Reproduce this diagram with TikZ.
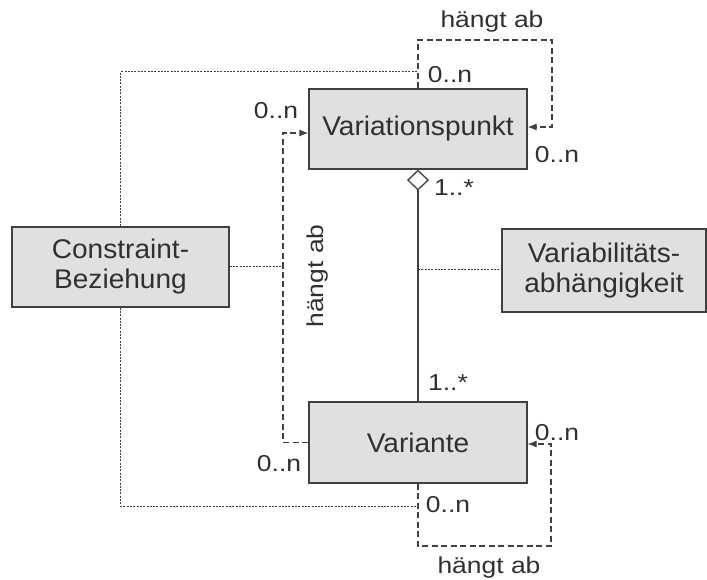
\documentclass[tikz,border=0pt]{standalone}
\usepackage{fontspec}
\setmainfont{Liberation Sans}
\newfontfamily\boxfont[FakeStretch=1.04]{Liberation Sans}
\newfontfamily\labfont[FakeStretch=1.15]{Liberation Sans}
\usetikzlibrary{arrows.meta,calc}
\definecolor{ink}{HTML}{404040}
\definecolor{boxfill}{HTML}{E0E0E0}
\definecolor{txt}{HTML}{303030}
\tikzset{
  cls/.style={draw=ink, fill=boxfill, line width=1.2pt, inner sep=0pt, text=txt,
    font=\boxfont\fontsize{27}{30}\selectfont, align=center},
  lab/.style={text=txt, font=\labfont\fontsize{23}{26}\selectfont, inner sep=0pt},
  dep/.style={draw=ink, line width=1.1pt, dash pattern=on 6pt off 3.5pt},
  assoc/.style={draw=ink, line width=1pt, dash pattern=on 2pt off 1.3pt},
  arr/.style={-{Latex[length=9pt,width=7pt]}},
}
\begin{document}
\begin{tikzpicture}[x=1pt,y=-1pt]
\useasboundingbox (0,0) rectangle (707,580);

% classes
\node[cls, minimum width=218pt, minimum height=80pt] (vp) at (418,129) {Variationspunkt};
\node[cls, minimum width=218pt, minimum height=81pt] (var) at (418,442.5) {Variante};
\node[cls, minimum width=217pt, minimum height=80pt] (cb) at (120.5,267) {Constraint-\\Beziehung};
\node[cls, minimum width=204pt, minimum height=83pt] (va) at (604,270.5) {Variabilitäts-\\abhängigkeit};

% helper points of the connectors
\coordinate (tj) at (418,72);
\coordinate (bj) at (418,506);
\coordinate (mj) at (418,270);
\coordinate (dl) at (283,268);
\coordinate (tr) at (552,40);
\coordinate (br) at (551,546);

% aggregation Variationspunkt <>-- Variante
\draw[ink, line width=1.3pt, {Diamond[open,fill=white,length=21pt,width=22pt]}-] (vp.south) -- (var.north);

% association classes and constraint links (dotted)
\draw[assoc] (mj) -- (mj -| va.west);
\draw[assoc] (cb.north) |- (tj);
\draw[assoc] (cb.south) |- (bj);
\draw[assoc] (cb.east) -- (cb.east -| dl);

% dependencies (dashed)
\draw[dep, arr] (var.west) -| (dl) |- ($(vp.west)+(0,4)$);
\draw[dep, arr] (vp.north) |- (tr) |- ($(vp.east)+(0,-2)$);
\draw[dep, arr] (var.south) |- (br) |- ($(var.east)+(0,1.5)$);

% labels
\node[lab, anchor=base] (l1) at (492,28) {hängt ab};
\node[lab] (l2) at (450,75) {0..n};
\node[lab] (l3) at (276,111) {0..n};
\node[lab] (l4) at (557,155) {0..n};
\node[lab] (l5) at (454,188) {1..*};
\node[lab, anchor=base, rotate=90] (l6) at (323,276) {hängt ab};
\node[lab] (l7) at (448,383) {1..*};
\node[lab] (l8) at (557,433) {0..n};
\node[lab] (l9) at (279,464) {0..n};
\node[lab] (l10) at (448,505) {0..n};
\node[lab, anchor=base] (l11) at (489,573) {hängt ab};
\end{tikzpicture}
\end{document}
